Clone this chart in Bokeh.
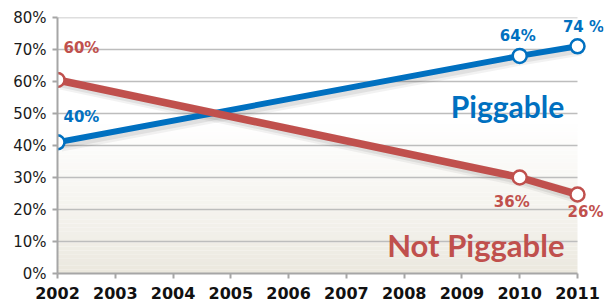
from bokeh.plotting import figure
from bokeh.models import Label, NumeralTickFormatter, FixedTicker, Range1d
from bokeh.embed import file_html
from bokeh.resources import INLINE

years = [2002, 2010, 2011]
piggable = [41, 68, 71]
not_piggable = [60.5, 30, 24.7]
piggable_labels = ["40%", "64%", "74 %"]
not_piggable_labels = ["60%", "36%", "26%"]
x_ticks = list(range(2002, 2012))
y_ticks = [0, 10, 20, 30, 40, 50, 60, 70, 80]

BLUE = "#0070C0"
RED = "#C0504D"
X0, X1 = x_ticks[0], x_ticks[-1]

p = figure(width=605, height=306, output_backend="svg", toolbar_location=None,
           x_range=Range1d(X0, X0 + 9 * 546 / 520), y_range=Range1d(0, 80),
           min_border_left=57, min_border_right=2, min_border_top=17, min_border_bottom=33)
p.outline_line_color = None
p.background_fill_color = "white"

# background gradient (white at top -> beige at bottom)
n = 40
top = 48.0
c0 = (0xEA, 0xE7, 0xDD)
bottoms, tops, cols = [], [], []
for i in range(n):
    b = top * i / n
    t = top * (i + 1) / n
    f = ((i + 0.5) / n) ** 0.8
    c = tuple(int(round(c0[k] + (255 - c0[k]) * f)) for k in range(3))
    bottoms.append(b); tops.append(t); cols.append("#%02x%02x%02x" % c)
p.quad(left=X0, right=X1, bottom=bottoms, top=tops, fill_color=cols,
       line_color=None, level="image")

p.xgrid.grid_line_color = None
p.ygrid.grid_line_color = None
p.segment(x0=[X0] * (len(y_ticks) - 1), x1=[X1] * (len(y_ticks) - 1),
          y0=y_ticks[1:], y1=y_ticks[1:], line_color="#BDBDBD", line_width=1.5,
          level="underlay")

# shadows
for dx, dy, w, a in [(0.06, -1.0, 12, 0.05), (0.05, -0.9, 8, 0.07)]:
    sx = [x + dx for x in years]
    p.line(sx, [y + dy for y in piggable], line_color="black", line_alpha=a, line_width=w)
    p.line(sx, [y + dy for y in not_piggable], line_color="black", line_alpha=a, line_width=w + 1)

p.line(years, piggable, line_color=BLUE, line_width=6)
p.line(years, not_piggable, line_color=RED, line_width=7.5)
p.scatter(years, piggable, size=14, fill_color="white", line_color=BLUE, line_width=2.5)
p.scatter(years, not_piggable, size=14, fill_color="white", line_color=RED, line_width=2.5)

# axes
p.xaxis.ticker = FixedTicker(ticks=x_ticks)
p.xaxis.bounds = (X0, X1)
p.yaxis.ticker = FixedTicker(ticks=y_ticks)
p.yaxis.major_label_overrides = {v: f"{v}%" for v in y_ticks}
for ax in (p.xaxis[0], p.yaxis[0]):
    ax.axis_line_color = "#A6A6A6"
    ax.axis_line_width = 2
    ax.major_tick_line_color = "#A6A6A6"
    ax.major_tick_line_width = 2
    ax.major_tick_out = 5
    ax.major_tick_in = 0
    ax.minor_tick_line_color = None
p.xaxis.major_label_text_font = "DejaVu Sans"
p.xaxis.major_label_text_font_style = "bold"
p.xaxis.major_label_text_font_size = "16px"
p.xaxis.major_label_text_color = "#111111"
p.xaxis.major_label_standoff = 8
p.yaxis.major_label_text_font = "DejaVu Sans"
p.yaxis.major_label_text_font_size = "15px"
p.yaxis.major_label_text_color = "#1a1a1a"
p.yaxis.major_label_standoff = 6

offs_b = [(6, 25, "left"), (-2, 20, "center"), (6, 19, "center")]
offs_r = [(6, 32, "left"), (-8, -24, "center"), (8, -18, "center")]
for x, y, t, (dx, dy, al) in zip(years, piggable, piggable_labels, offs_b):
    p.add_layout(Label(x=x, y=y, text=t, x_offset=dx, y_offset=dy, text_align=al,
                       text_baseline="middle", text_color=BLUE, text_font="DejaVu Sans",
                       text_font_style="bold", text_font_size="15px"))
for x, y, t, (dx, dy, al) in zip(years, not_piggable, not_piggable_labels, offs_r):
    p.add_layout(Label(x=x, y=y, text=t, x_offset=dx, y_offset=dy, text_align=al,
                       text_baseline="middle", text_color=RED, text_font="DejaVu Sans",
                       text_font_style="bold", text_font_size="15px"))

p.add_layout(Label(x=2009.79, y=52.2, text="Piggable", text_align="center",
                   text_baseline="middle", text_color=BLUE, text_font="Lato",
                   text_font_style="bold", text_font_size="30px"))
p.add_layout(Label(x=2009.24, y=8.8, text="Not Piggable", text_align="center",
                   text_baseline="middle", text_color=RED, text_font="Lato",
                   text_font_style="bold", text_font_size="31px"))

open("out.html", "w").write(file_html(p, INLINE))
